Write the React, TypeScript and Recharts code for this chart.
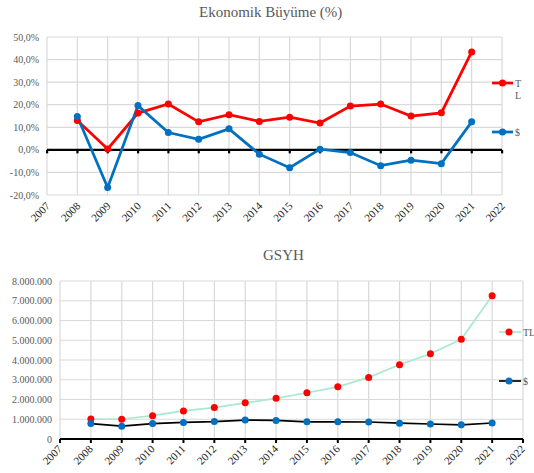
import {
  CartesianGrid,
  Legend,
  Line,
  LineChart,
  ReferenceDot,
  ReferenceLine,
  XAxis,
  YAxis,
} from "recharts";

const FONT = '"Liberation Serif", "Times New Roman", serif';
const GREY = "#595959";
const DARK = "#1a1a1a";
const GRID = "#D9D9D9";
const RED = "#FF0000";
const BLUE = "#0070C0";
const MINT = "#A8E9CF";

// axis years (first and last are empty)
const axisYears = [2007, 2008, 2009, 2010, 2011, 2012, 2013, 2014, 2015, 2016, 2017, 2018, 2019, 2020, 2021, 2022];
const dataYears = [2008, 2009, 2010, 2011, 2012, 2013, 2014, 2015, 2016, 2017, 2018, 2019, 2020, 2021];

// Ekonomik Büyüme (%)
const growthTl = [13.0, 0.4, 16.3, 20.3, 12.4, 15.6, 12.6, 14.5, 11.9, 19.4, 20.3, 15.0, 16.4, 43.4];
const growthUsd = [14.8, -16.7, 19.6, 7.7, 4.7, 9.3, -1.9, -7.9, 0.3, -1.2, -7.0, -4.6, -6.1, 12.4];
const growthTicks = [-20, -10, 0, 10, 20, 30, 40, 50];

// GSYH
const gdpTl = [1010000, 1000000, 1180000, 1420000, 1590000, 1830000, 2060000, 2340000, 2640000, 3120000, 3760000, 4320000, 5050000, 7250000];
const gdpUsd = [780000, 650000, 780000, 840000, 880000, 960000, 940000, 870000, 870000, 860000, 800000, 760000, 720000, 810000];
const gdpTicks = [0, 1000000, 2000000, 3000000, 4000000, 5000000, 6000000, 7000000, 8000000];

const growthData = dataYears.map((year, i) => ({ year, tl: growthTl[i], usd: growthUsd[i] }));
const gdpData = dataYears.map((year, i) => ({ year, tl: gdpTl[i], usd: gdpUsd[i] }));

const pct = (v: number) => `${v.toFixed(1).replace(".", ",")}%`;
const dotted = (v: number) => (v === 0 ? "0" : String(v).replace(/\B(?=(\d{3})+(?!\d))/g, "."));

const titleStyle = (left: number, top: number): React.CSSProperties => ({
  position: "absolute",
  left,
  top,
  fontFamily: FONT,
  fontSize: 15,
  color: GREY,
  whiteSpace: "nowrap",
});

// rotated year label, anchored by its end
const yearTick = (dx: number, dy: number) => (props: any) => {
  const { x, y, payload } = props;
  const ax = x + dx;
  const ay = y + dy;
  return (
    <text
      x={ax}
      y={ay}
      dy="0.35em"
      textAnchor="end"
      transform={`rotate(-45, ${ax}, ${ay})`}
      fontSize={11}
      fill={DARK}
      fontFamily={FONT}
    >
      {payload.value}
    </text>
  );
};

const valueTick = (fmt: (v: number) => string) => (props: any) => {
  const { x, y, payload } = props;
  return (
    <text x={x} y={y} dy="0.35em" textAnchor="end" fontSize={10} fill={GREY} fontFamily={FONT}>
      {fmt(payload.value)}
    </text>
  );
};

function ZeroTick(props: any) {
  const { cx, cy } = props;
  return <rect x={cx - 1} y={cy} width={2.2} height={3.5} fill="#000" />;
}

function GrowthLegend() {
  return (
    <svg width={44} height={70} style={{ display: "block" }}>
      <line x1={2} x2={23} y1={13} y2={13} stroke={RED} strokeWidth={2.75} />
      <circle cx={12.5} cy={13} r={3.5} fill={RED} />
      <text x={25} y={17} fontSize={10} fill={GREY} fontFamily={FONT}>T</text>
      <text x={25} y={29} fontSize={10} fill={GREY} fontFamily={FONT}>L</text>
      <line x1={2} x2={23} y1={62} y2={62} stroke={BLUE} strokeWidth={2.75} />
      <circle cx={12.5} cy={62} r={3.5} fill={BLUE} />
      <text x={25} y={66} fontSize={10} fill={GREY} fontFamily={FONT}>$</text>
    </svg>
  );
}

function GdpLegend() {
  return (
    <svg width={44} height={75} style={{ display: "block" }}>
      <line x1={5} x2={27} y1={12} y2={12} stroke={MINT} strokeWidth={1.7} />
      <circle cx={15} cy={12} r={3.5} fill={RED} />
      <text x={29} y={16} fontSize={10} fill={GREY} fontFamily={FONT}>TL</text>
      <line x1={5} x2={27} y1={61} y2={61} stroke="#000" strokeWidth={1.7} />
      <circle cx={15} cy={61} r={3.5} fill={BLUE} />
      <text x={29} y={65} fontSize={10} fill={GREY} fontFamily={FONT}>$</text>
    </svg>
  );
}

export default function App() {
  return (
    <div style={{ position: "absolute", left: 0, top: 0, width: 534, height: 473, background: "#fff", fontFamily: FONT }}>
      <div style={titleStyle(199, 4)}>Ekonomik Büyüme (%)</div>
      <div style={{ position: "absolute", left: 0, top: 0 }}>
        <LineChart width={534} height={235} data={growthData} margin={{ top: 37, right: 32, bottom: 0, left: 0 }}>
          <CartesianGrid stroke={GRID} strokeWidth={1.2} />
          <XAxis
            dataKey="year"
            type="number"
            domain={[2007, 2022]}
            ticks={axisYears}
            interval={0}
            height={40}
            axisLine={false}
            tickLine={false}
            tickSize={4}
            tickMargin={0}
            tick={yearTick(1, 5)}
          />
          <YAxis
            width={47}
            domain={[-20, 50]}
            ticks={growthTicks}
            interval={0}
            axisLine={false}
            tickLine={false}
            tick={valueTick(pct)}
          />
          <ReferenceLine y={0} stroke="#000" strokeWidth={2.3} />
          {axisYears.map((yr) => (
            <ReferenceDot key={yr} x={yr} y={0} r={1} shape={ZeroTick} />
          ))}
          <Legend
            layout="vertical"
            align="center"
            verticalAlign="middle"
            content={GrowthLegend}
            wrapperStyle={{ left: 490, top: 70, width: 44 }}
          />
          <Line
            type="linear"
            dataKey="tl"
            name="TL"
            stroke={RED}
            strokeWidth={2.75}
            dot={{ r: 3.5, fill: RED, stroke: RED, strokeWidth: 0 }}
            isAnimationActive={false}
          />
          <Line
            type="linear"
            dataKey="usd"
            name="$"
            stroke={BLUE}
            strokeWidth={2.75}
            dot={{ r: 3.5, fill: BLUE, stroke: BLUE, strokeWidth: 0 }}
            isAnimationActive={false}
          />
        </LineChart>
      </div>

      <div style={titleStyle(263, 247)}>GSYH</div>
      <div style={{ position: "absolute", left: 0, top: 240 }}>
        <LineChart width={534} height={233} data={gdpData} margin={{ top: 41, right: 11, bottom: 0, left: 0 }}>
          <CartesianGrid stroke={GRID} strokeWidth={1.2} />
          <XAxis
            dataKey="year"
            type="number"
            domain={[2007, 2022]}
            ticks={axisYears}
            interval={0}
            height={34}
            axisLine={{ stroke: "#000", strokeWidth: 2.2 }}
            tickLine={{ stroke: "#000", strokeWidth: 2 }}
            tickSize={4}
            tickMargin={0}
            tick={yearTick(0, 4)}
          />
          <YAxis
            width={60}
            domain={[0, 8000000]}
            ticks={gdpTicks}
            interval={0}
            axisLine={false}
            tickLine={false}
            tick={valueTick(dotted)}
          />
          <Legend
            layout="vertical"
            align="center"
            verticalAlign="middle"
            content={GdpLegend}
            wrapperStyle={{ left: 494, top: 80, width: 44 }}
          />
          <Line
            type="linear"
            dataKey="tl"
            name="TL"
            stroke={MINT}
            strokeWidth={1.7}
            dot={{ r: 3.5, fill: RED, stroke: RED, strokeWidth: 0 }}
            isAnimationActive={false}
          />
          <Line
            type="linear"
            dataKey="usd"
            name="$"
            stroke="#000"
            strokeWidth={1.7}
            dot={{ r: 3.5, fill: BLUE, stroke: BLUE, strokeWidth: 0 }}
            isAnimationActive={false}
          />
        </LineChart>
      </div>
    </div>
  );
}
